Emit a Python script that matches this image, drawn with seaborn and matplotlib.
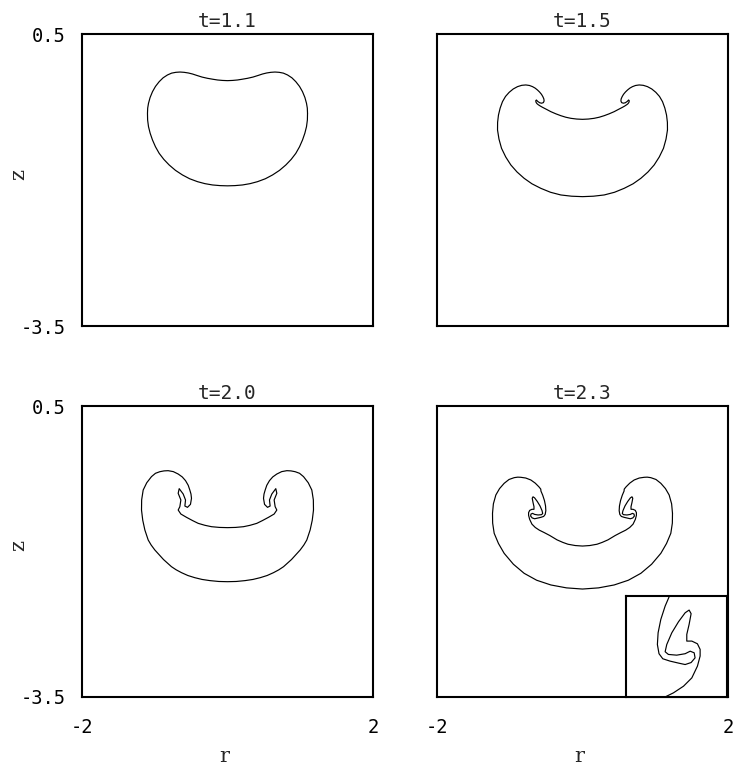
import matplotlib
matplotlib.use("Agg")
import matplotlib.pyplot as plt
import pandas as pd
import seaborn as sns

# Interface profiles, right half only (r >= 0). Each list starts on the axis at
# the bottom of the drop, runs round the outer rim, through the rolled-up edge,
# and ends on the axis at the upper surface. The left half is the mirror image.
titles = ["t=1.1", "t=1.5", "t=2.0", "t=2.3"]

r_t11 = [0.0, 0.10, 0.206, 0.31, 0.412, 0.52, 0.619, 0.715, 0.802, 0.875, 0.939,
         0.99, 1.031, 1.063, 1.086, 1.098, 1.10, 1.097, 1.086, 1.064, 1.031, 0.99,
         0.939, 0.885, 0.825, 0.768, 0.71, 0.653, 0.596, 0.538, 0.481, 0.42, 0.35,
         0.275, 0.20, 0.137, 0.07, 0.0]
z_t11 = [-1.58, -1.577, -1.568, -1.55, -1.523, -1.483, -1.431, -1.368, -1.294,
         -1.218, -1.135, -1.045, -0.952, -0.86, -0.769, -0.678, -0.587, -0.515,
         -0.45, -0.37, -0.29, -0.218, -0.153, -0.10, -0.061, -0.036, -0.025, -0.021,
         -0.025, -0.034, -0.048, -0.068, -0.09, -0.107, -0.12, -0.13, -0.136, -0.139]

r_t15 = [0.0, 0.15, 0.298, 0.44, 0.573, 0.695, 0.802, 0.90, 0.985, 1.055, 1.113,
         1.148, 1.168, 1.167, 1.155, 1.132, 1.10, 1.058, 1.008, 0.952, 0.893, 0.835,
         0.779, 0.73, 0.687, 0.65, 0.619, 0.59, 0.564, 0.545, 0.531, 0.528, 0.538,
         0.562, 0.588, 0.615, 0.634, 0.643, 0.638, 0.625, 0.609, 0.58, 0.55, 0.49,
         0.435, 0.365, 0.298, 0.23, 0.16, 0.08, 0.0]
z_t15 = [-1.728, -1.722, -1.705, -1.668, -1.614, -1.552, -1.477, -1.39, -1.294,
         -1.185, -1.066, -0.94, -0.815, -0.71, -0.61, -0.515, -0.427, -0.355, -0.299,
         -0.253, -0.221, -0.203, -0.198, -0.205, -0.221, -0.242, -0.267, -0.295,
         -0.326, -0.358, -0.39, -0.418, -0.44, -0.448, -0.442, -0.424, -0.404, -0.415,
         -0.437, -0.455, -0.468, -0.487, -0.504, -0.535, -0.564, -0.594, -0.619,
         -0.64, -0.655, -0.665, -0.669]

r_t20 = [0.0, 0.12, 0.243, 0.35, 0.449, 0.545, 0.632, 0.705, 0.77, 0.88, 0.999,
         1.05, 1.09, 1.136, 1.165, 1.182, 1.18, 1.159, 1.11, 1.045, 0.99, 0.93,
         0.872, 0.816, 0.745, 0.678, 0.622, 0.577, 0.54, 0.518, 0.502, 0.495, 0.509,
         0.55, 0.586, 0.577, 0.609, 0.664, 0.678, 0.641, 0.655, 0.678, 0.641, 0.564,
         0.48, 0.403, 0.31, 0.22, 0.11, 0.0]
z_t20 = [-1.915, -1.912, -1.90, -1.884, -1.86, -1.83, -1.791, -1.752, -1.709, -1.61,
         -1.479, -1.41, -1.342, -1.204, -1.07, -0.93, -0.79, -0.655, -0.555, -0.471,
         -0.425, -0.403, -0.392, -0.389, -0.402, -0.435, -0.475, -0.526, -0.59,
         -0.655, -0.71, -0.769, -0.852, -0.893, -0.875, -0.792, -0.71, -0.636, -0.70,
         -0.792, -0.884, -0.93, -0.985, -1.03, -1.075, -1.113, -1.14, -1.159, -1.169,
         -1.172]

r_t23 = [0.0, 0.22, 0.435, 0.63, 0.802, 0.95, 1.077, 1.155, 1.214, 1.235, 1.237,
         1.225, 1.191, 1.14, 1.077, 1.01, 0.939, 0.89, 0.848, 0.78, 0.71, 0.65, 0.60,
         0.574, 0.571, 0.547, 0.523, 0.508, 0.504, 0.513, 0.534, 0.574, 0.621, 0.658,
         0.691, 0.713, 0.708, 0.686, 0.658, 0.611, 0.565, 0.547, 0.556, 0.584, 0.621,
         0.658, 0.68, 0.691, 0.68, 0.667, 0.667, 0.695, 0.726, 0.741, 0.741, 0.726,
         0.695, 0.649, 0.593, 0.528, 0.45, 0.35, 0.27, 0.2, 0.1, 0.0]
z_t23 = [-2.016, -2.0, -1.96, -1.895, -1.80, -1.675, -1.525, -1.39, -1.25, -1.11,
         -0.975, -0.845, -0.723, -0.635, -0.563, -0.51, -0.485, -0.478, -0.48, -0.49,
         -0.517, -0.56, -0.61, -0.642, -0.67, -0.726, -0.80, -0.874, -0.939, -0.99,
         -1.018, -1.031, -1.042, -1.05, -1.039, -1.013, -0.985, -0.976, -0.99, -0.998,
         -0.994, -0.979, -0.939, -0.874, -0.813, -0.763, -0.748, -0.768, -0.827,
         -0.883, -0.92, -0.92, -0.935, -0.966, -1.003, -1.059, -1.124, -1.17, -1.207,
         -1.239, -1.28, -1.34, -1.375, -1.40, -1.418, -1.425]

r_limits = (-2, 2)
z_limits = (-3.5, 0.5)
r_ticks = [-2, 2]
r_tick_labels = ["-2", "2"]
z_ticks = [0.5, -3.5]
z_tick_labels = ["0.5", "-3.5"]

# Close-up window on the rolled edge at t=2.3
inset_r_limits = (0.33, 0.89)
inset_z_limits = (-1.23, -0.67)


def full_contour(r_half, z_half):
    """Mirror the right half about r=0 into one closed loop.

    The loop is started at the widest point of the rim, where the outline runs
    vertically, so the two ends of the path meet on a straight stretch.
    """
    r_loop = list(r_half) + [-v for v in reversed(r_half[1:-1])]
    z_loop = list(z_half) + list(reversed(z_half[1:-1]))
    k = max(range(len(r_half)), key=lambda j: r_half[j])
    r_loop = r_loop[k:] + r_loop[:k + 1]
    z_loop = z_loop[k:] + z_loop[:k + 1]
    return pd.DataFrame({"r": r_loop, "z": z_loop})


profiles = [full_contour(r_t11, z_t11), full_contour(r_t15, z_t15),
            full_contour(r_t20, z_t20), full_contour(r_t23, z_t23)]

sns.set_theme(style="white")
plt.rcParams["font.family"] = ["DejaVu Sans Mono", "DejaVu Sans"]

FIG_W, FIG_H = 736, 767
fig = plt.figure(figsize=(FIG_W / 100, FIG_H / 100), dpi=100)


def box(left, top, width, height):
    return [left / FIG_W, 1 - (top + height) / FIG_H, width / FIG_W, height / FIG_H]


panel_boxes = [box(82, 34, 291, 292), box(437, 34, 291, 292),
               box(82, 406, 291, 291), box(437, 406, 291, 291)]

line_kw = dict(color="black", linewidth=0.85, sort=False, estimator=None)


def frame(ax):
    for sp in ax.spines.values():
        sp.set_visible(True)
        sp.set_color("black")
        sp.set_linewidth(1.5)
    ax.set_facecolor("white")


def draw_profile(ax, df):
    sns.lineplot(data=df, x="r", y="z", ax=ax, **line_kw)
    for ln in ax.lines:
        ln.set_solid_capstyle("round")
        ln.set_solid_joinstyle("round")


for i, (pos, df, title) in enumerate(zip(panel_boxes, profiles, titles)):
    ax = fig.add_axes(pos)
    draw_profile(ax, df)
    ax.set_xlim(*r_limits)
    ax.set_ylim(*z_limits)
    frame(ax)
    ax.tick_params(length=0, labelsize=13.5, colors="black")
    ax.set_title(title, fontsize=14, pad=5)
    col, row = i % 2, i // 2
    if col == 0:
        ax.set_yticks(z_ticks)
        ax.set_yticklabels(z_tick_labels)
        ax.tick_params(axis="y", pad=12)
        ax.set_ylabel("z", family="DejaVu Serif", fontsize=15, rotation=90)
        ax.yaxis.set_label_coords(-0.185, 0.52)
    else:
        ax.set_yticks([])
        ax.set_ylabel("")
    if row == 1:
        ax.set_xticks(r_ticks)
        ax.set_xticklabels(r_tick_labels)
        ax.tick_params(axis="x", pad=15)
        ax.set_xlabel("r", family="DejaVu Serif", fontsize=15)
        ax.xaxis.set_label_coords(0.488, -0.172)
    else:
        ax.set_xticks([])
        ax.set_xlabel("")

# Magnified view of the rolled-up edge, in the lower-right corner of the last panel
ax_in = fig.add_axes(box(626, 596, 101, 101))
draw_profile(ax_in, profiles[3])
ax_in.set_xlim(*inset_r_limits)
ax_in.set_ylim(*inset_z_limits)
ax_in.set_xticks([])
ax_in.set_yticks([])
ax_in.set_xlabel("")
ax_in.set_ylabel("")
frame(ax_in)

fig.savefig("out.png", dpi=100, facecolor="white")
